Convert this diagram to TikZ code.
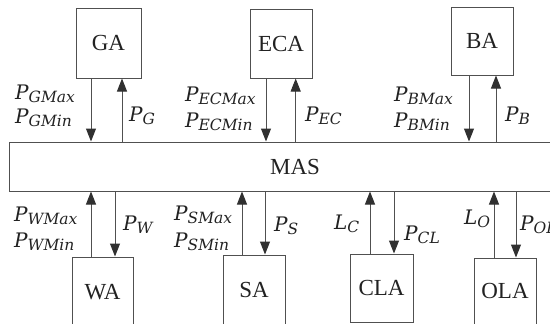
\documentclass[tikz,border=0pt]{standalone}
\usepackage{fontspec}
\setmainfont{Liberation Serif}
\newfontfamily\labfont{DejaVu Serif}
\usetikzlibrary{arrows.meta}
\definecolor{ln}{HTML}{505050}
\definecolor{hd}{HTML}{303030}
\definecolor{tx}{HTML}{222222}
\newcommand\lab[2]{{\labfont\itshape #1\raisebox{-0.3ex}{\fontsize{15.5}{17}\selectfont #2}}}
\tikzset{
  agent/.style={draw=ln, line width=1pt, inner sep=0pt, text=tx, font=\fontsize{23}{26}\selectfont},
  arr/.style={draw=ln, line width=1pt, -{Triangle[width=10pt,length=13pt,fill=hd,color=hd]}},
  lbl/.style={text=tx, inner sep=0pt, font=\fontsize{20}{24}\selectfont, align=left}
}
\begin{document}
\begin{tikzpicture}[x=1pt,y=-1pt]
\useasboundingbox (0,0) rectangle (550,324);
\clip (0,0) rectangle (550,324);
% top agents
\node[agent, minimum width=65pt, minimum height=70pt] (GA) at (108.5,43) {GA};
\node[agent, minimum width=62pt, minimum height=69pt] (ECA) at (281,43.5) {ECA};
\node[agent, minimum width=62pt, minimum height=68pt] (BA) at (482,41) {BA};
% MAS
\node[agent, minimum width=572pt, minimum height=49pt] (MAS) at (295,166.5) {MAS};
% bottom agents
\node[agent, minimum width=61pt, minimum height=70pt] (WA) at (102.5,292) {WA};
\node[agent, minimum width=62pt, minimum height=70pt] (SA) at (254,290) {SA};
\node[agent, minimum width=63pt, minimum height=68pt] (CLA) at (381.5,288) {CLA};
\node[agent, minimum width=62pt, minimum height=66pt] (OLA) at (505,291) {OLA};
% top connectors
\draw[arr] ([xshift=-17.5pt]GA.south) -- ([xshift=-17.5pt]GA.south |- MAS.north);
\draw[arr] ([xshift=13.5pt]GA.south |- MAS.north) -- ([xshift=13.5pt]GA.south);
\draw[arr] ([xshift=-15pt]ECA.south) -- ([xshift=-15pt]ECA.south |- MAS.north);
\draw[arr] ([xshift=14.7pt]ECA.south |- MAS.north) -- ([xshift=14.7pt]ECA.south);
\draw[arr] ([xshift=-13pt]BA.south) -- ([xshift=-13pt]BA.south |- MAS.north);
\draw[arr] ([xshift=14pt]BA.south |- MAS.north) -- ([xshift=14pt]BA.south);
% bottom connectors
\draw[arr] ([xshift=-11.5pt]WA.north) -- ([xshift=-11.5pt]WA.north |- MAS.south);
\draw[arr] ([xshift=12.5pt]WA.north |- MAS.south) -- ([xshift=12.5pt]WA.north);
\draw[arr] ([xshift=-12pt]SA.north) -- ([xshift=-12pt]SA.north |- MAS.south);
\draw[arr] ([xshift=11pt]SA.north |- MAS.south) -- ([xshift=11pt]SA.north);
\draw[arr] ([xshift=-11.5pt]CLA.north) -- ([xshift=-11.5pt]CLA.north |- MAS.south);
\draw[arr] ([xshift=12.5pt]CLA.north |- MAS.south) -- ([xshift=12.5pt]CLA.north);
\draw[arr] ([xshift=-11pt]OLA.north) -- ([xshift=-11pt]OLA.north |- MAS.south);
\draw[arr] ([xshift=11pt]OLA.north |- MAS.south) -- ([xshift=11pt]OLA.north);
% labels
\node[lbl, anchor=west] (lGa) at (15,94) {\lab{P}{GMax}};
\node[lbl, anchor=west] (lGb) at (15,118) {\lab{P}{GMin}};
\node[lbl, anchor=west] (lG) at (129,116) {\lab{P}{G}};
\node[lbl, anchor=west] (lEa) at (185,96) {\lab{P}{ECMax}};
\node[lbl, anchor=west] (lEb) at (185,122) {\lab{P}{ECMin}};
\node[lbl, anchor=west] (lE) at (305,116) {\lab{P}{EC}};
\node[lbl, anchor=west] (lBa) at (394,96) {\lab{P}{BMax}};
\node[lbl, anchor=west] (lBb) at (394,122) {\lab{P}{BMin}};
\node[lbl, anchor=west] (lB) at (505,116) {\lab{P}{B}};
\node[lbl, anchor=west] (lWa) at (14,216) {\lab{P}{WMax}};
\node[lbl, anchor=west] (lWb) at (14,242) {\lab{P}{WMin}};
\node[lbl, anchor=west] (lW) at (123,225) {\lab{P}{W}};
\node[lbl, anchor=west] (lSa) at (174,215) {\lab{P}{SMax}};
\node[lbl, anchor=west] (lSb) at (174,242) {\lab{P}{SMin}};
\node[lbl, anchor=west] (lS) at (274,226) {\lab{P}{S}};
\node[lbl, anchor=west] (lC) at (334,224) {\lab{L}{C}};
\node[lbl, anchor=west] (lCL) at (404,235) {\lab{P}{CL}};
\node[lbl, anchor=west] (lO) at (464,219) {\lab{L}{O}};
\node[lbl, anchor=west] (lOL) at (520,225) {\lab{P}{OL}};
\end{tikzpicture}
\end{document}
